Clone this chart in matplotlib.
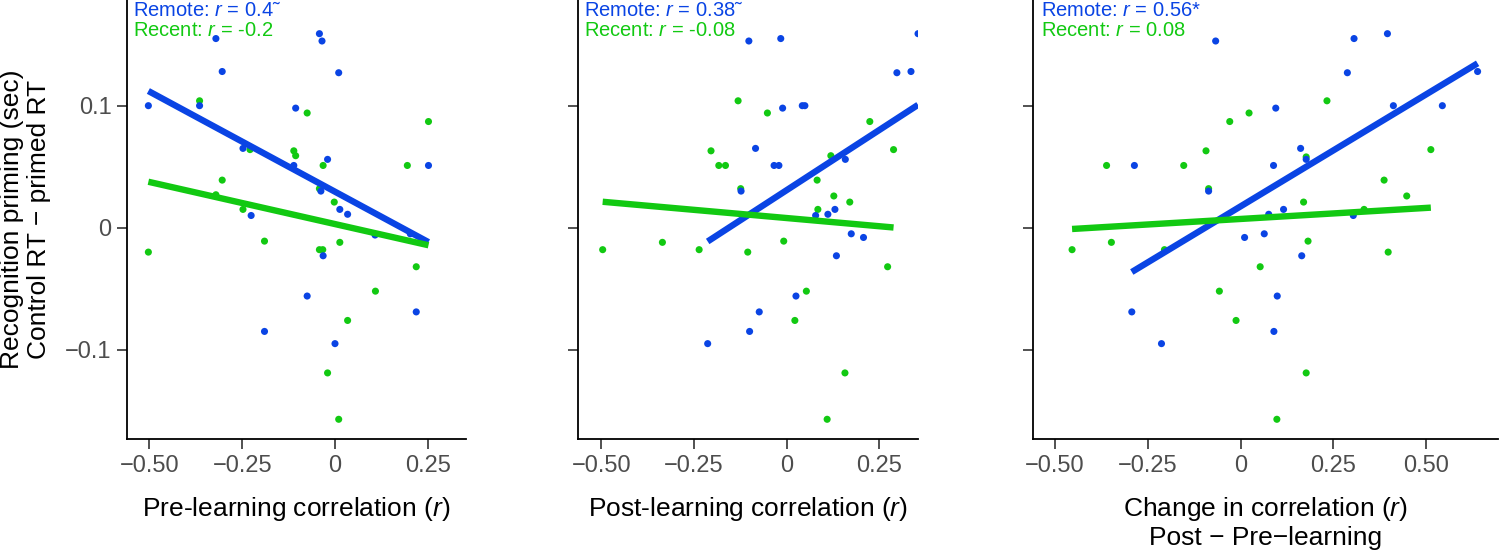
import numpy as np
import matplotlib
matplotlib.use("Agg")
import matplotlib.pyplot as plt

plt.rcParams["font.family"] = ["Liberation Sans", "DejaVu Sans"]
plt.rcParams["mathtext.fontset"] = "custom"
plt.rcParams["mathtext.rm"] = "Liberation Sans"
plt.rcParams["mathtext.it"] = "Liberation Sans:italic"

BLUE = "#0a44e4"
GREEN = "#12c912"

# recognition priming (sec), one value per participant
remote_y = [0.100, 0.155, 0.128, 0.100, 0.159, 0.153, 0.127, 0.098, 0.065, 0.056, 0.051,
            0.030, 0.015, 0.011, 0.010, 0.051, -0.006, -0.005, -0.023, -0.056, -0.085,
            -0.095, -0.069]
recent_y = [0.104, 0.094, 0.087, 0.064, 0.063, 0.059, 0.051, 0.051, 0.039, 0.027, 0.032,
            0.021, 0.015, -0.011, -0.012, -0.018, -0.018, -0.020, -0.032, -0.052, -0.076,
            -0.119, -0.157]

# pre-learning correlation
pre_remote_x = [-0.503, -0.321, -0.304, -0.365, -0.042, -0.035, 0.010, -0.106, -0.248, -0.020,
                -0.111, -0.038, 0.013, 0.034, -0.226, 0.252, 0.108, 0.203, -0.032, -0.075,
                -0.190, 0.000, 0.219]
pre_recent_x = [-0.365, -0.075, 0.252, -0.229, -0.111, -0.106, -0.032, 0.195, -0.304, -0.321,
                -0.042, -0.002, -0.248, -0.190, 0.013, -0.042, -0.033, -0.503, 0.219, 0.109,
                0.034, -0.020, 0.010]

# post-learning correlation
post_remote_y = [0.153, 0.155, 0.159, 0.127, 0.128, 0.098, 0.100, 0.100, 0.065, 0.051, 0.051,
                 0.030, 0.056, 0.015, 0.011, 0.010, -0.005, -0.008, -0.023, -0.056, -0.069,
                 -0.085, -0.095]
post_remote_x = [-0.102, -0.016, 0.354, 0.297, 0.335, -0.011, 0.042, 0.049, -0.084, -0.034,
                 -0.021, -0.123, 0.158, 0.130, 0.111, 0.078, 0.174, 0.207, 0.134, 0.025,
                 -0.074, -0.100, -0.213]
post_recent_y = [0.104, 0.094, 0.087, 0.064, 0.063, 0.059, 0.051, 0.051, 0.039, 0.032, 0.026,
                 0.021, 0.015, -0.011, -0.012, -0.018, -0.018, -0.020, -0.032, -0.052, -0.076,
                 -0.119, -0.157]
post_recent_x = [-0.131, -0.052, 0.224, 0.288, -0.204, 0.119, -0.183, -0.165, 0.082, -0.124,
                 0.127, 0.170, 0.084, -0.008, -0.335, -0.496, -0.236, -0.105, 0.272, 0.053,
                 0.022, 0.157, 0.109]

# change in correlation (post - pre)
chg_remote_y = [0.153, 0.155, 0.159, 0.127, 0.128, 0.098, 0.100, 0.100, 0.065, 0.056, 0.051,
                0.051, 0.030, 0.015, 0.011, 0.010, -0.008, -0.005, -0.023, -0.056, -0.069,
                -0.085, -0.095]
chg_remote_x = [-0.067, 0.306, 0.396, 0.288, 0.639, 0.095, 0.412, 0.544, 0.162, 0.177, 0.089,
                -0.286, -0.086, 0.116, 0.076, 0.304, 0.011, 0.064, 0.165, 0.099, -0.293,
                0.090, -0.213]
chg_recent_y = [0.104, 0.094, 0.087, 0.064, 0.063, 0.058, 0.039, 0.051, 0.051, 0.032, 0.026,
                0.021, 0.015, -0.012, -0.011, -0.018, -0.018, -0.020, -0.032, -0.052, -0.076,
                -0.119, -0.157]
chg_recent_x = [0.233, 0.023, -0.029, 0.513, -0.093, 0.177, 0.387, -0.361, -0.153, -0.086,
                0.448, 0.170, 0.333, -0.348, 0.182, -0.454, -0.205, 0.398, 0.053, -0.057,
                -0.012, 0.177, 0.098]

panels = [
    dict(rx=pre_remote_x, ry=remote_y, cx=pre_recent_x, cy=recent_y,
         rtxt="Remote: $r$ = 0.4\u02dc", ctxt="Recent: $r$ = -0.2",
         xlabel="Pre-learning correlation ($r$)",
         ticks=[-0.5, -0.25, 0, 0.25], ticklabels=["\u22120.50", "\u22120.25", "0", "0.25"],
         xlim=(-0.5606, 0.3531), rect=[127, 466]),
    dict(rx=post_remote_x, ry=post_remote_y, cx=post_recent_x, cy=post_recent_y,
         rtxt="Remote: $r$ = 0.38\u02dc", ctxt="Recent: $r$ = -0.08",
         xlabel="Post-learning correlation ($r$)",
         ticks=[-0.5, -0.25, 0, 0.25], ticklabels=["\u22120.50", "\u22120.25", "0", "0.25"],
         xlim=(-0.5617, 0.3547), rect=[578.3, 918.3]),
    dict(rx=chg_remote_x, ry=chg_remote_y, cx=chg_recent_x, cy=chg_recent_y,
         rtxt="Remote: $r$ = 0.56*", ctxt="Recent: $r$ = 0.08",
         xlabel="Change in correlation ($r$)\nPost \u2212 Pre\u2212learning",
         ticks=[-0.5, -0.25, 0, 0.25, 0.5],
         ticklabels=["\u22120.50", "\u22120.25", "0", "0.25", "0.50"],
         xlim=(-0.5601, 0.694), rect=[1032.7, 1498]),
]

W, H = 1500, 553
fig = plt.figure(figsize=(W / 100, H / 100), dpi=100)
bottom = 1 - 439.3 / H

for i, p in enumerate(panels):
    x0, x1 = p["rect"]
    ax = fig.add_axes([x0 / W, bottom, (x1 - x0) / W, 1 - bottom])
    ax.scatter(p["cx"], p["cy"], s=26, color=GREEN, edgecolors="none", zorder=2)
    ax.scatter(p["rx"], p["ry"], s=26, color=BLUE, edgecolors="none", zorder=3)
    # linear fits, drawn over the data range of each group
    for xs, ys, col, z in [(p["rx"], p["ry"], BLUE, 4), (p["cx"], p["cy"], GREEN, 5)]:
        xs = np.array(xs)
        k, b = np.polyfit(xs, ys, 1)
        xx = np.array([xs.min(), xs.max()])
        ax.plot(xx, k * xx + b, color=col, lw=4.6, solid_capstyle="butt", zorder=z)

    ax.set_xlim(*p["xlim"])
    ax.set_ylim(-0.1734, 0.1866)
    ax.set_xticks(p["ticks"])
    ax.set_xticklabels(p["ticklabels"])
    ax.set_yticks([-0.1, 0, 0.1])
    if i == 0:
        ax.set_yticklabels(["\u22120.1", "0", "0.1"])
        ax.set_ylabel("Recognition priming (sec)\nControl RT \u2212 primed RT",
                      fontsize=19, labelpad=10, linespacing=1.2)
    else:
        ax.set_yticklabels(["", "", ""])
    ax.set_xlabel(p["xlabel"], fontsize=19, labelpad=13, linespacing=1.2)
    ax.tick_params(axis="both", labelsize=17, length=7, width=1.2,
                   color="#333333", labelcolor="#4d4d4d", pad=4)
    for side in ["top", "right"]:
        ax.spines[side].set_visible(False)
    for side in ["left", "bottom"]:
        ax.spines[side].set_linewidth(1.3)

    ax.text(0.018, 0.9636, p["rtxt"], transform=ax.transAxes, color=BLUE,
            fontsize=14.5, ha="left", va="baseline")
    ax.text(0.018, 0.9187, p["ctxt"], transform=ax.transAxes, color=GREEN,
            fontsize=14.5, ha="left", va="baseline")

fig.savefig("out.png", dpi=100)
